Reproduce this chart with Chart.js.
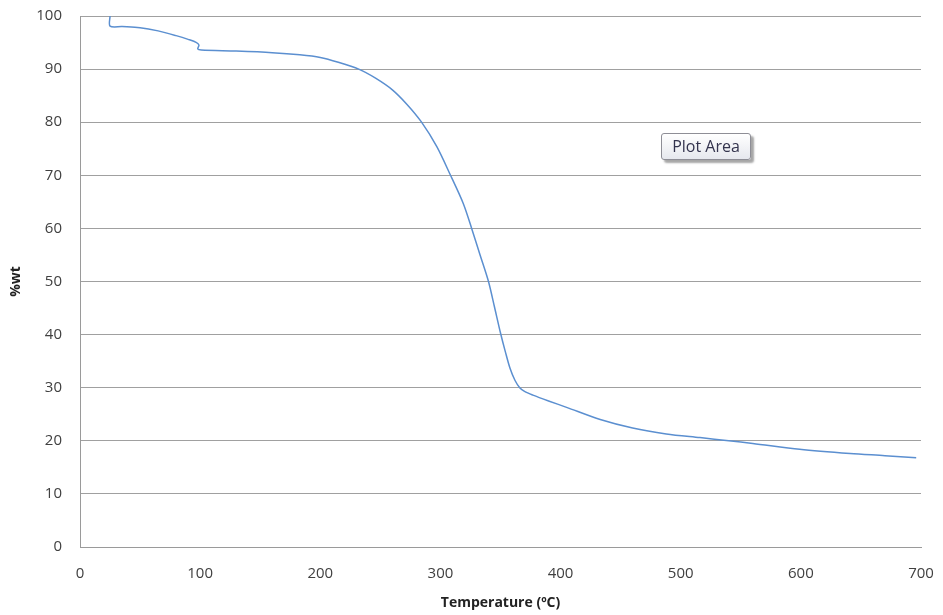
<!DOCTYPE html>
<html>
<head>
<meta charset="utf-8">
<script src="https://cdn.jsdelivr.net/npm/chart.js@4/dist/chart.umd.min.js"></script>
<style>
  html, body { margin: 0; padding: 0; background: #fff; }
  #wrap { position: relative; width: 943px; height: 615px; }
  #tga { display: block; }
  .tip {
    position: absolute; left: 661px; top: 133px; width: 88px; height: 25px;
    border: 1px solid #8e8e96; border-radius: 3px;
    background: linear-gradient(#ffffff, #e6e8ee);
    box-shadow: 3px 3px 2px rgba(0, 0, 0, 0.35);
    font: 16px "Open Sans", sans-serif; color: #34344e;
    line-height: 25px; text-align: center;
  }
</style>
</head>
<body>
<div id="wrap">
  <canvas id="tga" width="943" height="615"></canvas>
  <div class="tip">Plot Area</div>
</div>
<script>
// TGA run: sample weight (%) against furnace temperature (°C)
const temperature = [25, 25, 35, 50, 65, 80, 90, 97, 99, 98, 101, 130, 160, 183, 200, 215, 232, 246,
  260, 272, 284, 297, 308, 319, 326, 333, 340, 345, 350, 354, 358, 362, 366, 370, 377, 390,
  405, 433, 460, 488, 516, 540, 560, 599, 641, 670, 696];
const weightPct = [100, 98.1, 98.0, 97.8, 97.2, 96.3, 95.6, 95.0, 94.5, 93.8, 93.6, 93.4, 93.1, 92.7, 92.2, 91.3, 90.0, 88.3,
  86.1, 83.4, 80.1, 75.4, 70.2, 64.7, 60.0, 55.0, 50.0, 45.2, 40.3, 36.8, 33.6, 31.4, 30.0, 29.3, 28.6, 27.5,
  26.3, 24.0, 22.4, 21.3, 20.6, 20.0, 19.5, 18.4, 17.6, 17.2, 16.8];

const xTicks = [0, 100, 200, 300, 400, 500, 600, 700];
const yTicks = [0, 10, 20, 30, 40, 50, 60, 70, 80, 90, 100];

const tickFont = { family: 'Open Sans', size: 15 };
const titleFont = { family: 'Open Sans', size: 14, weight: 'bold' };

new Chart(document.getElementById('tga'), {
  type: 'line',
  data: {
    datasets: [{
      data: temperature.map((t, i) => ({ x: t, y: weightPct[i] })),
      borderColor: '#5b8fd0',
      borderWidth: 1.5,
      pointRadius: 0,
      tension: 0.3,
      fill: false
    }]
  },
  options: {
    responsive: false,
    animation: false,
    layout: { padding: { top: 16, right: 22, left: 0, bottom: 0 } },
    plugins: { legend: { display: false }, tooltip: { enabled: false } },
    scales: {
      x: {
        type: 'linear',
        min: 0, max: 700,
        afterBuildTicks: s => { s.ticks = xTicks.map(v => ({ value: v })); },
        afterFit: s => { s.height = 68; s.paddingLeft = 0; s.paddingRight = 0; },
        grid: { display: false },
        border: { display: true, color: '#9a9a9a', width: 1 },
        ticks: { color: '#404040', font: tickFont, padding: 10, maxRotation: 0 },
        title: { display: true, text: 'Temperature (ºC)', color: '#222', font: titleFont, padding: { bottom: 4 } }
      },
      y: {
        min: 0, max: 100,
        afterBuildTicks: s => { s.ticks = yTicks.map(v => ({ value: v })); },
        afterFit: s => { s.width = 80; s.paddingTop = 0; s.paddingBottom = 0; },
        grid: { color: '#a0a0a0', lineWidth: 1, drawTicks: false },
        border: { display: true, color: '#9a9a9a', width: 1 },
        ticks: { color: '#404040', font: tickFont, padding: 18 },
        title: { display: true, text: '%wt', color: '#222', font: titleFont, padding: { top: 8 } }
      }
    }
  }
});
</script>
</body>
</html>
